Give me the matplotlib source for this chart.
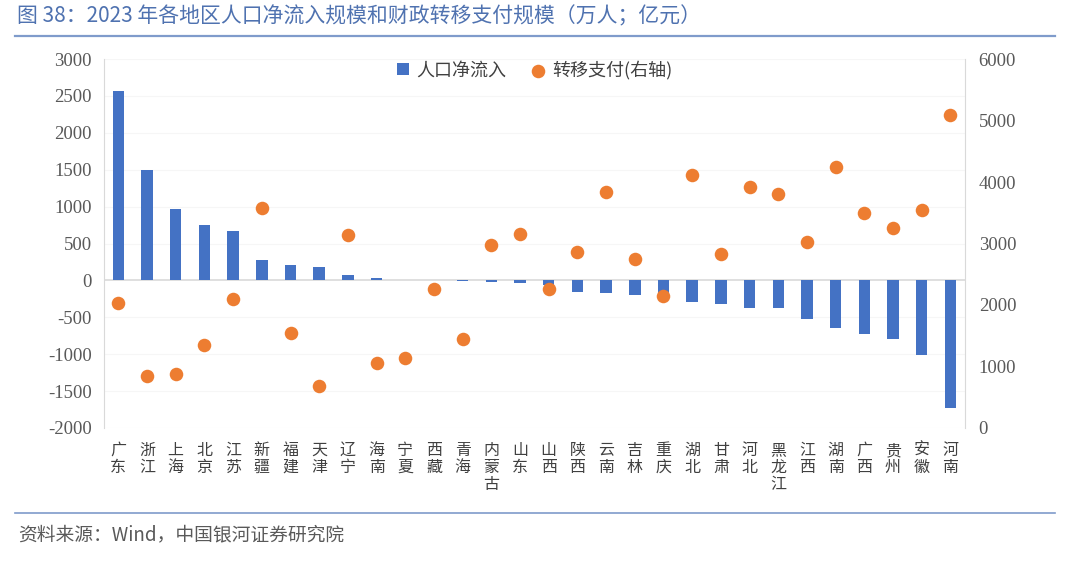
import matplotlib
matplotlib.use("Agg")
import matplotlib.pyplot as plt
import numpy as np

plt.rcParams['font.family'] = ['Noto Sans CJK SC', 'DejaVu Sans']

regions = ['广东', '浙江', '上海', '北京', '江苏', '新疆', '福建', '天津', '辽宁', '海南',
           '宁夏', '西藏', '青海', '内蒙古', '山东', '山西', '陕西', '云南', '吉林', '重庆',
           '湖北', '甘肃', '河北', '黑龙江', '江西', '湖南', '广西', '贵州', '安徽', '河南']
net_inflow = [2565, 1500, 962, 750, 668, 280, 203, 176, 72, 36,
              12, 3, -3, -20, -35, -60, -153, -176, -203, -230,
              -289, -316, -370, -379, -519, -641, -732, -790, -1007, -1725]
transfer = [2028, 850, 878, 1355, 2092, 3572, 1545, 688, 3138, 1051,
            1144, 2255, 1442, 2981, 3154, 2260, 2856, 3832, 2753, 2146,
            4108, 2835, 3913, 3810, 3019, 4244, 3501, 3257, 3545, 5094]
left_ticks = [-2000, -1500, -1000, -500, 0, 500, 1000, 1500, 2000, 2500, 3000]
right_ticks = [0, 1000, 2000, 3000, 4000, 5000, 6000]

title = '图 38：2023 年各地区人口净流入规模和财政转移支付规模（万人；亿元）'
source = '资料来源：Wind，中国银河证券研究院'

fig = plt.figure(figsize=(10.8, 5.68), dpi=100)
ax = fig.add_axes([0.0963, 0.2465, 0.797, 0.6496])
ax2 = ax.twinx()

x = np.arange(len(regions))
ax.bar(x, net_inflow, width=0.4, color='#4472C4', label='人口净流入', zorder=2)
ax2.scatter(x, transfer, s=95, color='#ED7D31', label='转移支付(右轴)', zorder=3, linewidths=0)

ax.set_ylim(-2000, 3000)
ax2.set_ylim(0, 6000)
ax.set_xlim(-0.5, len(regions) - 0.5)
ax.set_yticks(left_ticks)
ax2.set_yticks(right_ticks)

tick_font = dict(family=['Liberation Serif'], size=13.5)
ax.set_yticklabels([str(v) for v in left_ticks], fontdict=tick_font, color='#595959')
ax2.set_yticklabels([str(v) for v in right_ticks], fontdict=tick_font, color='#595959')
ax.tick_params(axis='y', length=0, pad=9)
ax2.tick_params(axis='y', length=0, pad=10)

ax.set_xticks(x)
ax.set_xticklabels(['\n'.join(r) for r in regions], fontsize=11.5, color='#404040',
                   linespacing=1.0, va='top')
ax.tick_params(axis='x', length=0, pad=10)

ax.axhline(0, color='#d9d9d9', lw=1.2, zorder=1)
for t in left_ticks:
    if t != 0:
        ax.axhline(t, color='#f6f6f6', lw=0.8, zorder=0)

for a in (ax, ax2):
    a.spines['top'].set_visible(False)
    a.spines['bottom'].set_visible(False)
    a.spines['left'].set_color('#d9d9d9')
    a.spines['right'].set_color('#d9d9d9')
ax2.spines['left'].set_visible(False)
ax.spines['right'].set_visible(False)

h1, l1 = ax.get_legend_handles_labels()
h2, l2 = ax2.get_legend_handles_labels()
leg = ax.legend(h1 + h2, l1 + l2, loc='upper center', bbox_to_anchor=(0.50, 1.04), ncol=2,
                frameon=False, fontsize=13, handlelength=0.7, handletextpad=0.4,
                columnspacing=1.4, labelcolor='#404040')

fig.text(0.016, 0.971, title, fontsize=15, color='#4F72B0', va='center', ha='left')
fig.add_artist(plt.Line2D([0.014, 0.977], [0.937, 0.937], color='#7F9BCB', lw=1.6,
                          transform=fig.transFigure))
fig.add_artist(plt.Line2D([0.014, 0.977], [0.097, 0.097], color='#7F9BCB', lw=1.2,
                          transform=fig.transFigure))
fig.text(0.017, 0.058, source, fontsize=13.5, color='#595959', style='italic',
         va='center', ha='left')

fig.savefig('out.png', dpi=100)
